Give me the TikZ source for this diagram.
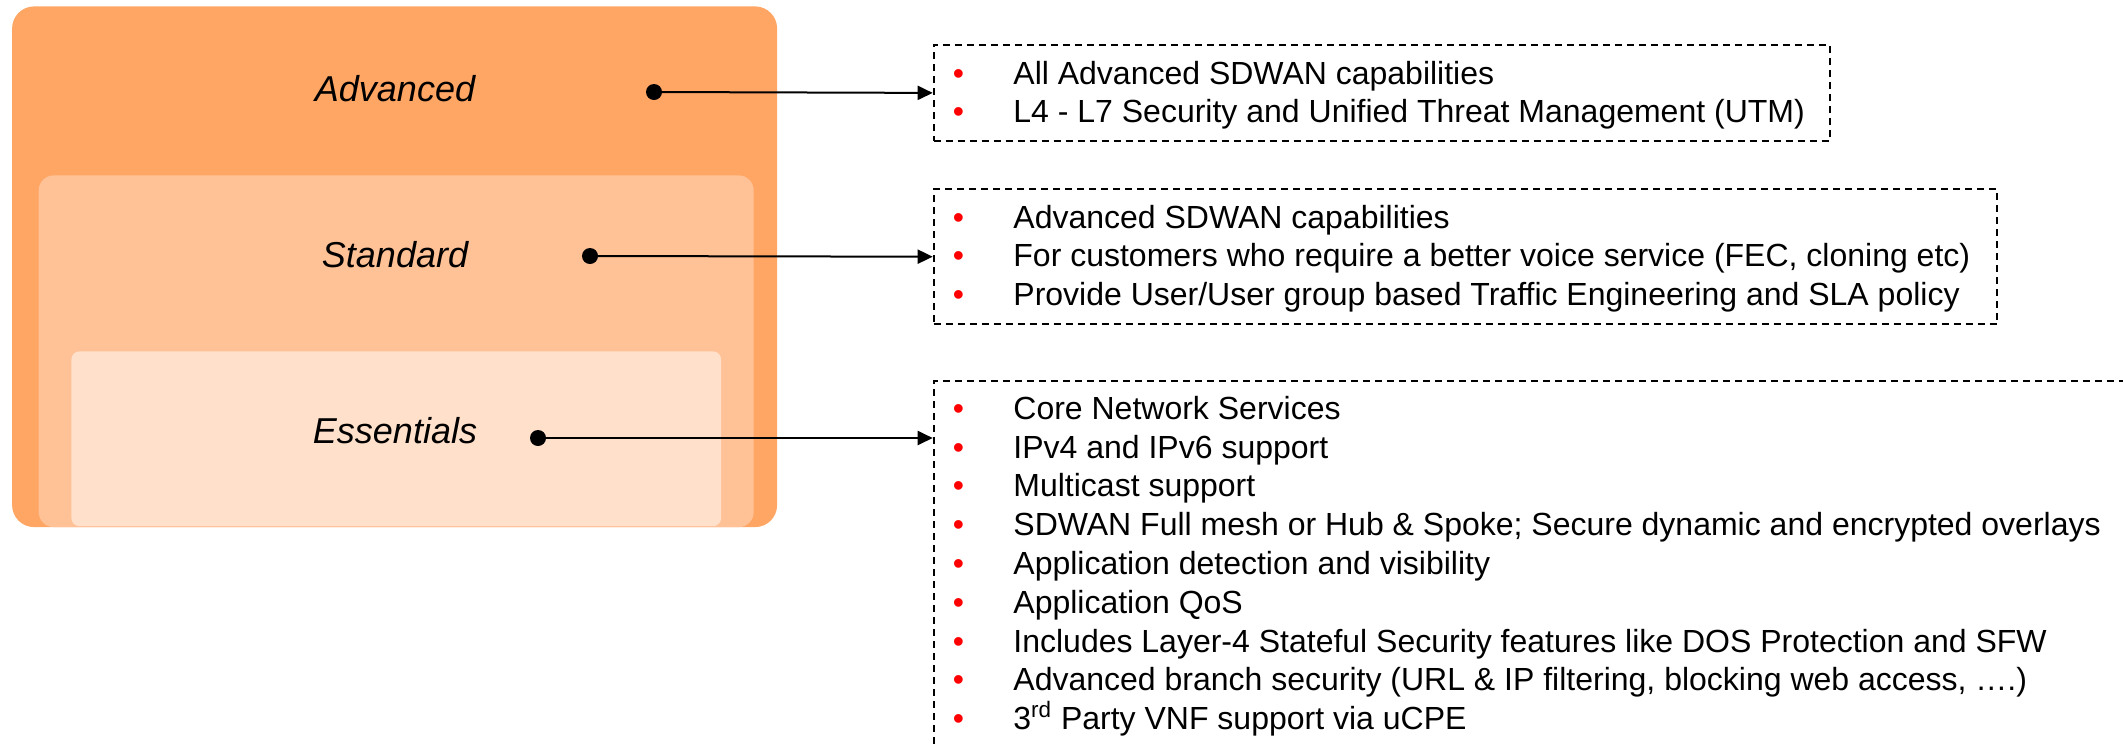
\documentclass[tikz,border=0pt]{standalone}
\usepackage{fontspec}
\setmainfont{Liberation Sans}
\usetikzlibrary{arrows.meta}
\usetikzlibrary{positioning}

\definecolor{advorange}{HTML}{FFA664}
\definecolor{stdorange}{HTML}{FFC196}
\definecolor{essorange}{HTML}{FFE0CA}

\tikzset{
  tier/.style={rounded corners=#1, inner sep=0pt, anchor=north west},
  tiername/.style={font=\fontsize{18}{22}\selectfont\itshape},
  dot/.style={circle, fill=black, inner sep=0pt, minimum size=8pt},
  listbox/.style={draw, dash pattern=on 3.5pt off 2.5pt, line width=0.9pt, inner sep=0pt, anchor=north west},
  item/.style={anchor=base west, inner sep=0pt, font=\fontsize{16}{19}\selectfont},
  link/.style={-{Triangle[length=7.5pt,width=7pt]}, line width=1pt},
}
\newcommand{\bul}{\makebox[30.3pt][l]{\textcolor{red}{\textbullet}}}

\begin{document}
\begin{tikzpicture}[x=0.5pt, y=-0.5pt]
        \useasboundingbox (0,0) rectangle (2123,745);
        \clip (0,0) rectangle (2123,745);

        % nested tiers
        \node[tier=11pt, fill=advorange, minimum width=382.5pt, minimum height=260.35pt] (adv) at (11.7,6) {};
        \node[tier=7.5pt, fill=stdorange, minimum width=357.5pt, minimum height=175.85pt] (std) at (38.3,175) {};
        \node[tier=4pt, fill=essorange, minimum width=324.85pt, minimum height=87.35pt] (ess) at (71,351) {};

        \node[tiername] (advname) at (395,89) {Advanced};
        \node[tiername] (stdname) at (395,255) {Standard};
        \node[tiername] (essname) at (395,431) {Essentials};

        \node[dot] (advdot) at (654,92) {};
        \node[dot] (stddot) at (590,256) {};
        \node[dot] (essdot) at (538,438) {};

        % feature lists
        \node[listbox, minimum width=448.15pt, minimum height=48pt] (advlist) at (932.7,44) {};
        \node[listbox, minimum width=531.8pt, minimum height=67.5pt] (stdlist) at (932.7,188.3) {};
        \node[listbox, minimum width=650pt, minimum height=250pt] (esslist) at (932.7,380) {};

        \foreach \txt [count=\i] in {All Advanced SDWAN capabilities,
            L4 - L7 Security and Unified Threat Management (UTM)}
          \node[item] (advitem-\i) at (952.4,{84.3+38*(\i-1)}) {\bul\txt};

        \foreach \txt [count=\i] in {Advanced SDWAN capabilities,
            {For customers who require a better voice service (FEC, cloning etc)},
            Provide User/User group based Traffic Engineering and SLA policy}
          \node[item] (stditem-\i) at (952.4,{228+38.65*(\i-1)}) {\bul\txt};

        \foreach \txt [count=\i] in {Core Network Services,
            IPv4 and IPv6 support,
            Multicast support,
            SDWAN Full mesh or Hub \& Spoke; Secure dynamic and encrypted overlays,
            Application detection and visibility,
            Application QoS,
            Includes Layer-4 Stateful Security features like DOS Protection and SFW,
            {Advanced branch security (URL \& IP filtering, blocking web access, ….)},
            3\textsuperscript{rd} Party VNF support via uCPE}
          \node[item] (essitem-\i) at (952.4,{419.3+38.8*(\i-1)}) {\bul\txt};

        \draw[link] (advdot.center) -- (advlist.west);
        \draw[link] (stddot.center) -- (stdlist.west);
        \draw[link] (essdot.center) -- (essdot -| esslist.west);
      \end{tikzpicture}
\end{document}
